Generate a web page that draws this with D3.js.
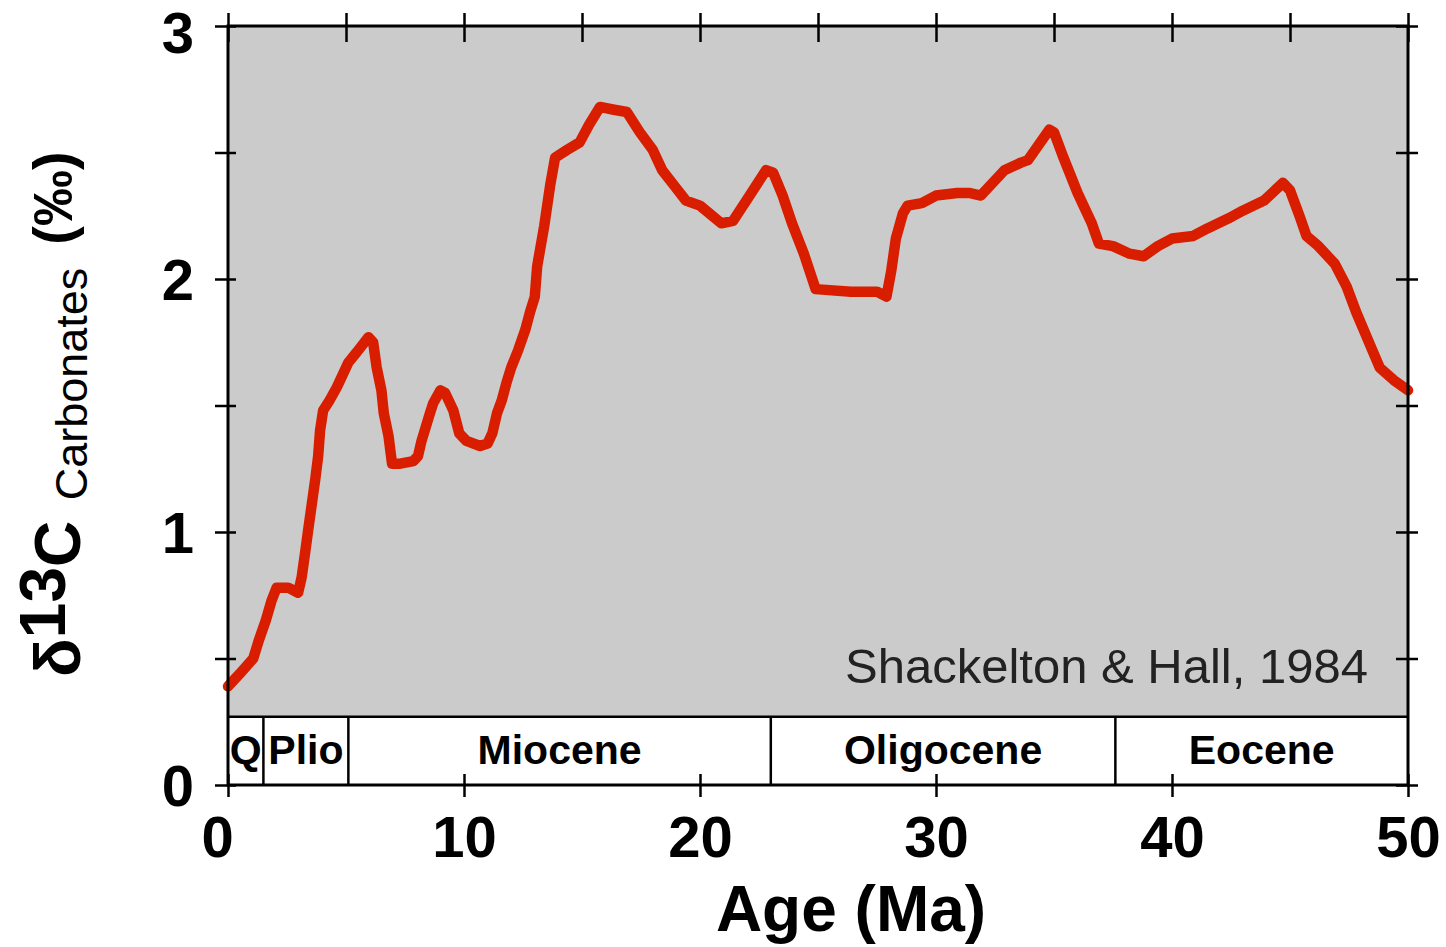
<!DOCTYPE html>
<html>
<head>
<meta charset="utf-8">
<script src="https://cdn.jsdelivr.net/npm/d3@7"></script>
<style>
  body { margin: 0; background: #fff; }
  svg { display: block; }
</style>
</head>
<body>
<svg id="chart" width="1446" height="947"></svg>
<script>
// Cenozoic benthic carbon-isotope record (δ13C of carbonates, ‰) against age (Ma)
const ages = [
  0.0, 0.5, 1.07, 1.3, 1.6, 1.85, 2.06, 2.55, 2.97, 3.12, 3.27, 3.4, 3.55, 3.7, 3.82, 3.9,
  4.03, 4.3, 4.6, 4.8, 5.1, 5.45, 5.95, 6.15, 6.3, 6.5, 6.6, 6.8, 6.95, 7.3, 7.85, 8.05,
  8.2, 8.56, 8.7, 9.0, 9.2, 9.55, 9.8, 10.1, 10.68, 11.0, 11.2, 11.4, 11.6, 11.8, 12.0,
  12.3, 12.6, 12.8, 13.0, 13.1, 13.4, 13.65, 13.86, 14.36, 14.9, 15.3, 15.76, 16.3, 16.9,
  17.45, 18.0, 18.4, 18.9, 19.4, 20.0, 20.9, 21.4, 22.1, 22.8, 23.1, 23.5, 23.9, 24.4,
  24.9, 26.4, 27.5, 27.9, 28.1, 28.3, 28.6, 28.8, 29.4, 30.0, 30.9, 31.4, 31.9, 32.9,
  33.6, 33.9, 34.8, 35.0, 35.4, 36.0, 36.6, 36.9, 37.5, 38.2, 38.8, 39.4, 40.0, 40.9,
  41.5, 42.4, 43.0, 43.9, 44.7, 45.0, 45.4, 45.7, 46.2, 46.9, 47.4, 47.8, 48.3, 48.8,
  49.4, 50.0
];
const d13c = [
  0.39, 0.44, 0.50, 0.57, 0.65, 0.73, 0.78, 0.78, 0.76, 0.82, 0.92, 1.01, 1.11, 1.21, 1.30, 1.40,
  1.48, 1.52, 1.57, 1.61, 1.67, 1.71, 1.77, 1.75, 1.65, 1.56, 1.47, 1.38, 1.27, 1.27, 1.28, 1.30,
  1.36, 1.47, 1.51, 1.56, 1.55, 1.48, 1.39, 1.36, 1.34, 1.35, 1.39, 1.47, 1.52, 1.59, 1.65,
  1.72, 1.80, 1.87, 1.93, 2.05, 2.21, 2.37, 2.48, 2.51, 2.54, 2.61, 2.68, 2.67, 2.66,
  2.58, 2.51, 2.43, 2.37, 2.31, 2.29, 2.22, 2.23, 2.33, 2.43, 2.42, 2.33, 2.22, 2.10,
  1.96, 1.95, 1.95, 1.93, 2.03, 2.16, 2.26, 2.29, 2.30, 2.33, 2.34, 2.34, 2.33, 2.43,
  2.46, 2.47, 2.59, 2.58, 2.48, 2.34, 2.22, 2.14, 2.13, 2.10, 2.09, 2.13, 2.16, 2.17,
  2.20, 2.24, 2.27, 2.31, 2.38, 2.35, 2.25, 2.17, 2.13, 2.06, 1.97, 1.87, 1.76, 1.65,
  1.60, 1.56
];

// Geological epochs along the bottom strip (boundaries in Ma)
const epochNames = ["Q", "Plio", "Miocene", "Oligocene", "Eocene"];
const epochBounds = [0, 1.5, 5.1, 23.0, 37.6, 50];
const stripTop = 0.27;               // top of the epoch strip, in ‰ units

const xDomain = [0, 50];
const yDomain = [0, 3];
const xLabelTicks = [0, 10, 20, 30, 40, 50];
const xMinorTicks = [0, 5, 10, 15, 20, 25, 30, 35, 40, 45, 50];
const yTicks = [0, 0.5, 1, 1.5, 2, 2.5, 3];
const yLabelTicks = [0, 1, 2, 3];
const sourceNote = "Shackelton & Hall, 1984";
const xTitle = "Age (Ma)";

const FONT = "'Liberation Sans', Arial, Helvetica, sans-serif";
const svg = d3.select("#chart");

const x = d3.scaleLinear().domain(xDomain).range([228, 1408]);
const y = d3.scaleLinear().domain(yDomain).range([785, 26]);

// plot background (grey) and epoch strip (white)
svg.append("rect")
  .attr("x", x(0)).attr("y", y(3))
  .attr("width", x(50) - x(0)).attr("height", y(stripTop) - y(3))
  .attr("fill", "#cbcbcb");
svg.append("rect")
  .attr("x", x(0)).attr("y", y(stripTop))
  .attr("width", x(50) - x(0)).attr("height", y(0) - y(stripTop))
  .attr("fill", "#fff");

// epoch strip borders
svg.append("line")
  .attr("x1", x(0)).attr("x2", x(50))
  .attr("y1", y(stripTop)).attr("y2", y(stripTop))
  .attr("stroke", "#000").attr("stroke-width", 2.5);
svg.append("g").selectAll("line")
  .data(epochBounds.slice(1, -1))
  .join("line")
  .attr("x1", d => x(d)).attr("x2", d => x(d))
  .attr("y1", y(stripTop)).attr("y2", y(0))
  .attr("stroke", "#000").attr("stroke-width", 2.5);

svg.append("g").selectAll("text")
  .data(epochNames)
  .join("text")
  .attr("x", (d, i) => (x(epochBounds[i]) + x(epochBounds[i + 1])) / 2)
  .attr("y", 764)
  .attr("text-anchor", "middle")
  .attr("font-family", FONT)
  .attr("font-weight", "bold")
  .attr("font-size", 41)
  .attr("fill", "#000")
  .text(d => d);

// source note
svg.append("text")
  .attr("x", 1368).attr("y", 683)
  .attr("text-anchor", "end")
  .attr("font-family", FONT)
  .attr("font-size", 49)
  .attr("fill", "#222")
  .text(sourceNote);

// isotope curve
const points = ages.map((a, i) => [a, d13c[i]]);
const line = d3.line().x(d => x(d[0])).y(d => y(d[1]));
svg.append("path")
  .datum(points)
  .attr("d", line)
  .attr("fill", "none")
  .attr("stroke", "#d91e00")
  .attr("stroke-width", 10.5)
  .attr("stroke-linejoin", "round")
  .attr("stroke-linecap", "round");

// axes: ticks straddle the frame
function styleAxis(g) {
  g.select(".domain").remove();
  g.selectAll(".tick line").attr("stroke", "#000").attr("stroke-width", 2.5);
  g.attr("font-family", FONT).attr("font-weight", "bold").attr("font-size", 58);
  g.selectAll(".tick text").attr("fill", "#000");
}

const topAxis = svg.append("g")
  .attr("transform", `translate(0,${y(3)})`)
  .call(d3.axisTop(x).tickValues(xMinorTicks).tickFormat(""))
  .call(styleAxis);
topAxis.selectAll(".tick line").attr("y1", 16).attr("y2", -13);

const bottomAxis = svg.append("g")
  .attr("transform", `translate(0,${y(0)})`)
  .call(d3.axisBottom(x).tickValues(xLabelTicks).tickFormat(d3.format("d")))
  .call(styleAxis);
bottomAxis.selectAll(".tick line").attr("y1", -11).attr("y2", 12);
bottomAxis.selectAll(".tick text").attr("y", 72).attr("dy", null)
  .filter(d => d === 0).attr("dx", -11);

const leftAxis = svg.append("g")
  .attr("transform", `translate(${x(0)},0)`)
  .call(d3.axisLeft(y).tickValues(yTicks)
    .tickFormat(d => yLabelTicks.includes(d) ? d3.format("d")(d) : ""))
  .call(styleAxis);
leftAxis.selectAll(".tick line").attr("x1", 8).attr("x2", -13);
leftAxis.selectAll(".tick text").attr("x", -34).attr("dy", "0.36em")
  .filter(d => d === yDomain[1]).attr("dy", "0.45em");

const rightAxis = svg.append("g")
  .attr("transform", `translate(${x(50)},0)`)
  .call(d3.axisRight(y).tickValues(yTicks).tickFormat(""))
  .call(styleAxis);
rightAxis.selectAll(".tick line").attr("x1", -12).attr("x2", 10);

// frame
svg.append("rect")
  .attr("x", x(0)).attr("y", y(3))
  .attr("width", x(50) - x(0)).attr("height", y(0) - y(3))
  .attr("fill", "none")
  .attr("stroke", "#000")
  .attr("stroke-width", 3);

// x-axis title
svg.append("text")
  .attr("x", 851).attr("y", 931)
  .attr("text-anchor", "middle")
  .attr("font-family", FONT)
  .attr("font-weight", "bold")
  .attr("font-size", 64)
  .attr("fill", "#000")
  .text(xTitle);

// y-axis title: δ13C with raised "13", subscript "Carbonates", then the unit
const t1 = svg.append("text")
  .attr("transform", "translate(80,677) rotate(-90)")
  .attr("text-anchor", "start")
  .attr("font-family", FONT)
  .attr("font-weight", "bold")
  .attr("font-size", 64)
  .attr("fill", "#000");
t1.append("tspan").text("δ");
t1.append("tspan").attr("dy", -15).text("13");
t1.append("tspan").attr("dy", 15).text("C");

svg.append("text")
  .attr("transform", "translate(87,384) rotate(-90)")
  .attr("text-anchor", "middle")
  .attr("font-family", FONT)
  .attr("font-size", 45)
  .attr("fill", "#000")
  .text("Carbonates");

svg.append("text")
  .attr("transform", "translate(72,198) rotate(-90)")
  .attr("text-anchor", "middle")
  .attr("font-family", FONT)
  .attr("font-weight", "bold")
  .attr("font-size", 56)
  .attr("fill", "#000")
  .text("(‰)");
</script>
</body>
</html>
